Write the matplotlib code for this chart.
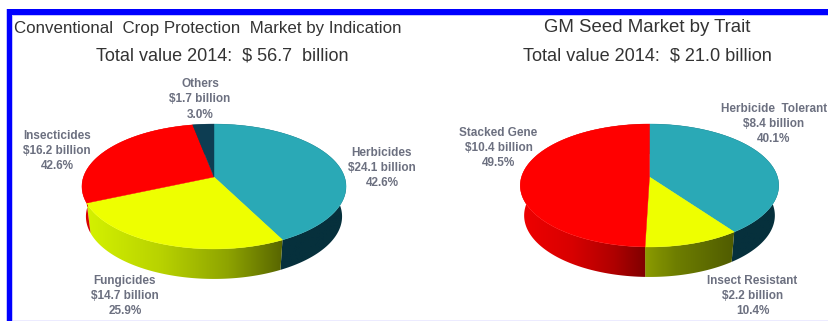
import numpy as np
import matplotlib
matplotlib.use("Agg")
import matplotlib.pyplot as plt
from matplotlib.colors import LinearSegmentedColormap
from matplotlib.patches import Polygon, Rectangle

# crop protection market, $ billion
crop_names = ["Herbicides", "Fungicides", "Insecticides", "Others"]
crop_values = [24.1, 14.7, 16.2, 1.7]
crop_labels = ["Herbicides\n$24.1 billion\n42.6%", "Fungicides\n$14.7 billion\n25.9%",
               "Insecticides\n$16.2 billion\n42.6%", "Others\n$1.7 billion\n3.0%"]

# gm seed market, $ billion
seed_names = ["Herbicide Tolerant", "Insect Resistant", "Stacked Gene"]
seed_values = [8.4, 2.2, 10.4]
seed_labels = ["Herbicide  Tolerant\n$8.4 billion\n40.1%", "Insect Resistant\n$2.2 billion\n10.4%",
               "Stacked Gene\n$10.4 billion\n49.5%"]

TEAL = "#2aa9b6"
YELLOW = "#eeff00"
RED = "#ff0000"
NAVY = "#0d3d52"

plt.rcParams["font.family"] = ["Liberation Sans", "DejaVu Sans"]

fig = plt.figure(figsize=(8.29, 3.21), dpi=100)
ax = fig.add_axes([0, 0, 1, 1])
ax.set_xlim(0, 829)
ax.set_ylim(321, 0)
ax.axis("off")


def rim(theta, cx, cy, a, b, k, drop=0, shrink=1.0):
    # circle seen in perspective, theta runs clockwise from the top
    u = np.sin(theta)
    v = np.cos(theta)
    w = 1 + k * v
    return cx + shrink * a * u / w, cy - b * v / w + drop


def pie3d(values, top_colors, wall_colors, cx, cy, a, b, k, depth):
    total = sum(values)
    edges = np.cumsum([0] + list(values)) / total * 2 * np.pi
    # walls first, the top faces are painted over them
    for i in range(len(values)):
        th = np.linspace(edges[i], edges[i + 1], 120)
        xt, yt = rim(th, cx, cy, a, b, k)
        xb, yb = rim(th, cx, cy, a, b, k, depth, 0.97)
        pts = np.column_stack([np.r_[xt, xb[::-1]], np.r_[yt, yb[::-1]]])
        poly = Polygon(pts, closed=True, fc="none", ec="none")
        ax.add_patch(poly)
        cmap = LinearSegmentedColormap.from_list("wall", wall_colors[i])
        img = ax.imshow(np.linspace(0, 1, 256).reshape(1, -1), cmap=cmap, aspect="auto",
                        extent=(cx - a * 1.02, cx + a * 1.02, cy + b * 2, cy - b), zorder=2)
        img.set_clip_path(poly)
    for i in range(len(values)):
        th = np.linspace(edges[i], edges[i + 1], 120)
        xt, yt = rim(th, cx, cy, a, b, k)
        pts = np.column_stack([np.r_[cx, xt], np.r_[cy, yt]])
        ax.add_patch(Polygon(pts, closed=True, fc=top_colors[i], ec=top_colors[i], lw=0.3, zorder=3))


# gradients run left to right across each pie
crop_walls = [["#06303c", "#06303c"],
              [(0, "#d6f400"), (0.3, "#b8d200"), (0.55, "#8ea400"), (0.76, "#566400"), (1, "#566400")],
              ["#d80000", "#d80000"], [NAVY, NAVY]]
seed_walls = [["#06303c", "#06303c"],
              [(0, "#8c9c00"), (0.48, "#8c9c00"), (0.6, "#6e7e00"), (0.82, "#505c00"), (1, "#505c00")],
              [(0, "#f00000"), (0.2, "#d80000"), (0.36, "#b00000"), (0.48, "#800000"), (1, "#800000")]]

pie3d(crop_values, [TEAL, YELLOW, RED, NAVY], crop_walls, 214, 177, 130.5, 61, 0.152, 30)
pie3d(seed_values, [TEAL, YELLOW, RED], seed_walls, 649.5, 177, 128, 60.3, 0.138, 30)

# titles
title_color = "#333333"
ax.text(208, 28, "Conventional  Crop Protection  Market by Indication", ha="center", va="center",
        fontsize=12.2, color=title_color)
ax.text(222, 56, "Total value 2014:  $ 56.7  billion", ha="center", va="center", fontsize=13, color=title_color)
ax.text(647, 28, "GM Seed Market by Trait", ha="center", va="center", fontsize=13.4, color=title_color)
ax.text(647, 56, "Total value 2014:  $ 21.0 billion", ha="center", va="center", fontsize=13.1, color=title_color)

# slice labels
label_color = "#6c7080"
crop_pos = [(382, 168), (125, 296), (57, 151), (200, 99.5)]
seed_pos = [(774, 124), (752.5, 296), (498.5, 148)]
for txt, (x, y) in zip(crop_labels + seed_labels, crop_pos + seed_pos):
    ax.text(x, y, txt, ha="center", va="center", fontsize=8.5, fontweight="bold", color=label_color,
            linespacing=1.34)

# blue frame, open on the right and at the bottom
frame = "#0000ff"
halo = "#c4c4ff"
ax.add_patch(Rectangle((6, 8.5), 823, 7, fc=halo, ec="none", zorder=4))
ax.add_patch(Rectangle((6, 8.5), 7.5, 312.5, fc=halo, ec="none", zorder=4))
ax.add_patch(Rectangle((7, 9), 822, 5.5, fc=frame, ec="none", zorder=5))
ax.add_patch(Rectangle((7, 9), 5.5, 312, fc=frame, ec="none", zorder=5))
ax.add_patch(Rectangle((13, 319.5), 816, 1.5, fc="#ecebff", ec="none", zorder=4))

ax.set_xlim(0, 829)
ax.set_ylim(321, 0)
fig.savefig("out.png", dpi=100)
